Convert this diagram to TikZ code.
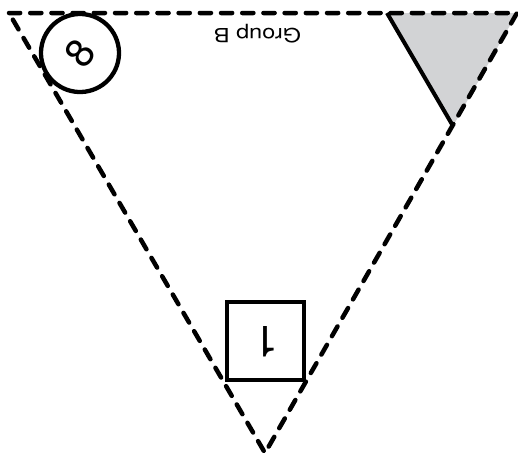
\documentclass[tikz,border=0pt]{standalone}
\usepackage{fontspec}
\setmainfont{TeX Gyre Heros}
\definecolor{lgray}{RGB}{210,211,213}
\begin{document}
\begin{tikzpicture}[x=1pt,y=-1pt,
  dashedline/.style={line width=4.5pt, dash pattern=on 11.2pt off 10pt, line cap=round, line join=round},
  solidline/.style={line width=4pt},
  ringnode/.style={circle, draw, line width=4.3pt, minimum size=78pt, inner sep=0pt},
  boxnode/.style={rectangle, draw, line width=4pt, minimum size=77.5pt, inner sep=0pt, line join=miter}]
\useasboundingbox (0,0) rectangle (518,456);
\coordinate (A) at (9,13);
\coordinate (B) at (517,13);
\coordinate (C) at (265,453);
\coordinate (G1) at (387,13);
\coordinate (G3) at (453,126);
\fill[lgray] (G1) -- (B) -- (G3) -- cycle;
\draw[solidline] (G1) -- (G3);
\draw[dashedline] (A) -- (B) -- (C) -- cycle;
\node[ringnode, rotate=53, font=\fontsize{40}{40}\selectfont] (ring) at (80,53) {8};
\node[boxnode] (box) at (265.5,341) {};
\node[rotate=180, anchor=base, inner sep=0pt, font=\fontsize{43}{43}\selectfont] (one) at (267,326) {1};
\node[rotate=180, anchor=base, inner sep=0pt, xscale=1.2, font=\fontsize{19.5}{19.5}\selectfont] (grp) at (257.5,28) {Group B};
\end{tikzpicture}
\end{document}
